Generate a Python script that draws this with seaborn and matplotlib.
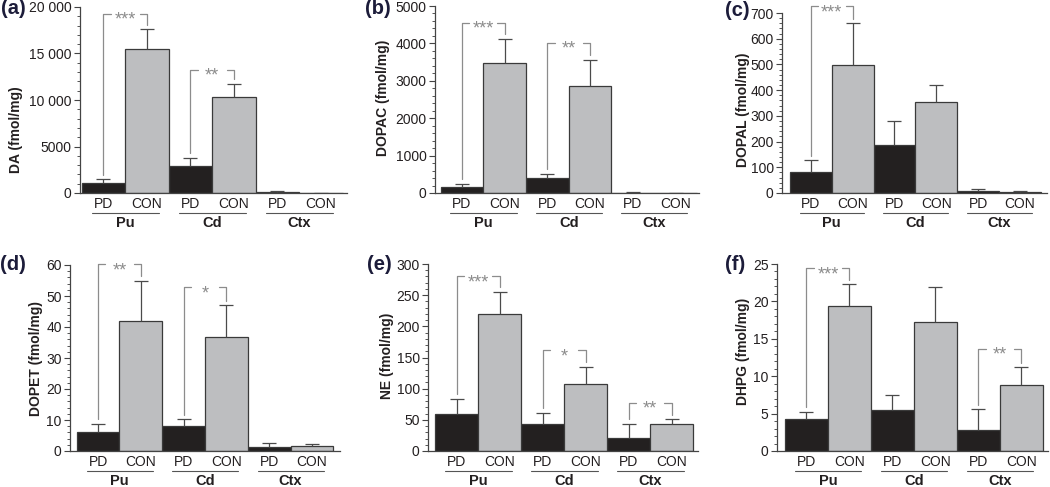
import numpy as np
import pandas as pd
import matplotlib
matplotlib.use("Agg")
import matplotlib.pyplot as plt
import matplotlib.transforms as mtransforms
from matplotlib.ticker import AutoMinorLocator, FixedLocator, FixedFormatter
import seaborn as sns

# ---------------- data ----------------
regions = ["Pu", "Cd", "Ctx"]
conditions = ["PD", "CON"]

da_mean = [1075, 15520, 2940, 10320, 120, 30]
da_sem = [395, 2080, 820, 1400, 60, 20]
da_ticks = [0, 5000, 10000, 15000, 20000]
da_ticklabels = ["0", "5000", "10 000", "15 000", "20 000"]
da_sig = [("Pu", 19283, "***"), ("Cd", 13262, "**")]

dopac_mean = [160, 3464, 400, 2848, 10, 5]
dopac_sem = [80, 652, 109, 706, 10, 5]
dopac_ticks = [0, 1000, 2000, 3000, 4000, 5000]
dopac_ticklabels = ["0", "1000", "2000", "3000", "4000", "5000"]
dopac_sig = [("Pu", 4554, "***"), ("Cd", 4018, "**")]

dopal_mean = [83, 497, 185, 353, 6.5, 4]
dopal_sem = [44, 164, 94, 67, 10, 3]
dopal_ticks = [0, 100, 200, 300, 400, 500, 600, 700]
dopal_ticklabels = ["0", "100", "200", "300", "400", "500", "600", "700"]
dopal_sig = [("Pu", 726, "***")]

dopet_mean = [6.1, 41.9, 8.1, 36.9, 1.3, 1.5]
dopet_sem = [2.6, 13.1, 2.1, 10.1, 1.2, 0.8]
dopet_ticks = [0, 10, 20, 30, 40, 50, 60]
dopet_ticklabels = ["0", "10", "20", "30", "40", "50", "60"]
dopet_sig = [("Pu", 60.2, "**"), ("Cd", 52.8, "*")]

ne_mean = [60, 220, 43, 107, 21.4, 44]
ne_sem = [23.6, 35, 18, 27.5, 22, 7]
ne_ticks = [0, 50, 100, 150, 200, 250, 300]
ne_ticklabels = ["0", "50", "100", "150", "200", "250", "300"]
ne_sig = [("Pu", 280.7, "***"), ("Cd", 161.8, "*"), ("Ctx", 77.1, "**")]

dhpg_mean = [4.33, 19.4, 5.45, 17.3, 2.77, 8.8]
dhpg_sem = [0.94, 2.9, 2.1, 4.6, 2.81, 2.4]
dhpg_ticks = [0, 5, 10, 15, 20, 25]
dhpg_ticklabels = ["0", "5", "10", "15", "20", "25"]
dhpg_sig = [("Pu", 24.4, "***"), ("Ctx", 13.7, "**")]

panels = [
    ("(a)", "DA (fmol/mg)", da_mean, da_sem, da_ticks, da_ticklabels, da_sig),
    ("(b)", "DOPAC (fmol/mg)", dopac_mean, dopac_sem, dopac_ticks, dopac_ticklabels, dopac_sig),
    ("(c)", "DOPAL (fmol/mg)", dopal_mean, dopal_sem, dopal_ticks, dopal_ticklabels, dopal_sig),
    ("(d)", "DOPET (fmol/mg)", dopet_mean, dopet_sem, dopet_ticks, dopet_ticklabels, dopet_sig),
    ("(e)", "NE (fmol/mg)", ne_mean, ne_sem, ne_ticks, ne_ticklabels, ne_sig),
    ("(f)", "DHPG (fmol/mg)", dhpg_mean, dhpg_sem, dhpg_ticks, dhpg_ticklabels, dhpg_sig),
]

# ---------------- layout (pixels) ----------------
W, H = 1050, 487
# spine x start, spine x end, y top, y zero
rects = [(80, 347, 7, 193), (435, 699, 6, 193), (782, 1047, 13, 193),
         (70, 340, 265, 451), (428, 698, 264, 451), (777, 1048, 264, 451)]
xlims = [(-0.54, 5.60), (-0.63, 5.55), (-0.69, 5.65),
         (-0.657, 5.657), (-0.663, 5.61), (-0.686, 5.623)]
ylab_pos = [(-57, 0.34), (-45, 0.51), (-32, 0.46), (-27, 0.50), (-34, 0.51), (-27, 0.535)]
letter_pos = [(1, 9), (365, 9), (725, 10), (0, 265), (367, 265), (725, 265)]

sns.set_style("ticks")
plt.rcParams["font.family"] = ["Liberation Sans", "DejaVu Sans"]

TXT = "#231f20"
EDGE = "#3a3a3a"
palette = {"PD": "#231f20", "CON": "#bcbec0"}

fig = plt.figure(figsize=(W / 100, H / 100), dpi=100)

bar_names = [f"{r} {c}" for r in regions for c in conditions]
bar_conds = [c for r in regions for c in conditions]

for k, (letter, ylabel, mean, sem, ticks, ticklabels, sig) in enumerate(panels):
    x0, x1, yt, yz = rects[k]
    ax = fig.add_axes([x0 / W, 1 - yz / H, (x1 - x0) / W, (yz - yt) / H])
    df = pd.DataFrame({"bar": bar_names, "cond": bar_conds, "value": mean})
    sns.barplot(data=df, x="bar", y="value", hue="cond", order=bar_names,
                hue_order=conditions, palette=palette, dodge=False, width=1.0,
                edgecolor=EDGE, linewidth=0.9, errorbar=None, legend=False, ax=ax)
    xs = np.arange(len(bar_names))
    eb = ax.errorbar(xs, mean, yerr=[np.zeros(len(sem)), sem], fmt="none",
                     ecolor="#4a4a4a", elinewidth=0.9, capsize=5, capthick=0.9, zorder=1)
    eb[1][0].set_visible(False)

    ymax = ticks[-1]
    ax.set_ylim(0, ymax)
    ax.set_xlim(*xlims[k])
    ax.yaxis.set_major_locator(FixedLocator(ticks))
    ax.yaxis.set_major_formatter(FixedFormatter(ticklabels))
    ax.yaxis.set_minor_locator(AutoMinorLocator(5))
    ax.tick_params(axis="y", which="major", direction="out", length=4, width=0.8,
                   color="#444444", labelsize=10, labelcolor=TXT, pad=2)
    ax.tick_params(axis="y", which="minor", direction="out", length=2.2, width=0.7,
                   color="#555555")
    ax.tick_params(axis="x", bottom=False, labelbottom=False)
    ax.set_xlabel("")
    sns.despine(ax=ax)
    for s in ("left", "bottom"):
        ax.spines[s].set_color("#444444")
        ax.spines[s].set_linewidth(0.9)

    ax.set_ylabel(ylabel, fontsize=10, fontweight="bold", color=TXT)
    ax.yaxis.set_label_coords(ylab_pos[k][0] / (x1 - x0), ylab_pos[k][1])

    blend = mtransforms.blended_transform_factory(ax.transData, ax.transAxes)
    t_cond = mtransforms.offset_copy(blend, fig=fig, y=-11, units="dots")
    t_line = mtransforms.offset_copy(blend, fig=fig, y=-20, units="dots")
    t_reg = mtransforms.offset_copy(blend, fig=fig, y=-30, units="dots")
    for i, c in enumerate(bar_conds):
        ax.text(i, 0, c, transform=t_cond, ha="center", va="center",
                fontsize=10, color=TXT, clip_on=False)
    for g, r in enumerate(regions):
        ax.plot([2 * g - 0.27, 2 * g + 1.28], [0, 0], transform=t_line,
                color="#555555", lw=0.8, clip_on=False)
        ax.text(2 * g + 0.5, 0, r, transform=t_reg, ha="center", va="center",
                fontsize=10.5, fontweight="bold", color=TXT, clip_on=False)

    # significance brackets
    gap = 0.025 * ymax
    bc = "#8c8c8c"
    t_star = mtransforms.offset_copy(ax.transData, fig=fig, y=-11, units="dots")
    for reg, top, stars in sig:
        g = regions.index(reg)
        li, ri = 2 * g, 2 * g + 1
        lb = mean[li] + sem[li] + gap
        rb = mean[ri] + sem[ri] + gap
        ax.plot([li, li, li + 0.17], [lb, top, top], color=bc, lw=0.9, clip_on=False)
        ax.plot([ri - 0.17, ri, ri], [top, top, rb], color=bc, lw=0.9, clip_on=False)
        ax.text(li + 0.5, top, stars, transform=t_star, ha="center", va="baseline",
                fontsize=13, color=bc, clip_on=False)

    lx, ly = letter_pos[k]
    fig.text(lx / W, 1 - ly / H, letter, ha="left", va="center", fontsize=14.5,
             fontweight="bold", color="#1c1c3a")

fig.savefig("out.png", dpi=100)
